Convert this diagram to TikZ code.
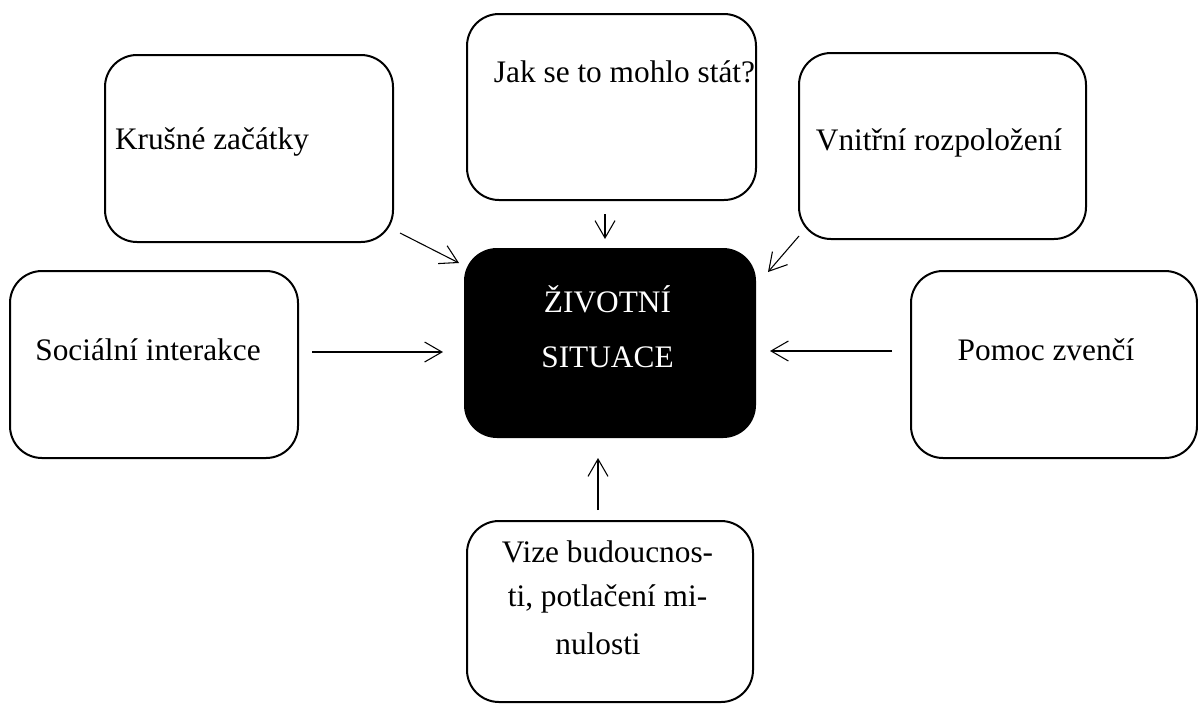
\documentclass[tikz,border=0pt]{standalone}
\usepackage{fontspec}
\setmainfont{Liberation Serif}
\usetikzlibrary{arrows.meta}
\begin{document}
\begin{tikzpicture}[x=0.75pt,y=-0.75pt,
  box/.style={draw, line width=1.5pt, rounded corners=24pt, inner sep=0pt},
  lbl/.style={anchor=base, inner sep=0pt, font=\fontsize{23.5}{28}\selectfont},
  conn/.style={line width=0.8pt, -{Straight Barb[length=13pt,width=15pt,line width=0.8pt]}}]
\useasboundingbox (0,0) rectangle (1198,704);
% boxes
\node[box, minimum width=216pt, minimum height=140.25pt] (kz) at (249,148.5) {};
\node[box, minimum width=216.75pt, minimum height=139.5pt] (jak) at (611.5,107) {};
\node[box, minimum width=215.25pt, minimum height=139.5pt] (vr) at (942.5,146) {};
\node[box, minimum width=216pt, minimum height=140.25pt] (si) at (154,364.5) {};
\node[box, fill=black, minimum width=217.5pt, minimum height=141pt] (ct) at (610,343) {};
\node[box, minimum width=214.5pt, minimum height=140.25pt] (pz) at (1054,364.5) {};
\node[box, minimum width=214.5pt, minimum height=135.75pt] (vb) at (610,611.5) {};
% labels
\node[lbl] (tkz) at (212,149) {Krušné začátky};
\node[lbl] (tjak) at (624.5,82) {Jak se to mohlo stát?};
\node[lbl] (tvr) at (939,150) {Vnitřní rozpoložení};
\node[lbl] (tsi) at (148,360) {Sociální interakce};
\node[lbl] (tpz) at (1046,360) {Pomoc zvenčí};
\node[lbl, text=white] (tct1) at (607.5,312) {ŽIVOTNÍ};
\node[lbl, text=white] (tct2) at (607.5,367) {SITUACE};
\node[lbl] (tvb1) at (607.5,562) {Vize budoucnos-};
\node[lbl] (tvb2) at (607.5,606) {ti, potlačení mi-};
\node[lbl] (tvb3) at (598,654) {nulosti};
% connector ends
\coordinate (a1s) at (400,233); \coordinate (a1e) at (459,263);
\coordinate (a2s) at (605,214); \coordinate (a2e) at (605,239);
\coordinate (a3s) at (799,236); \coordinate (a3e) at (768,272);
\coordinate (a4s) at (312,352); \coordinate (a4e) at (443,352);
\coordinate (a5s) at (892,351); \coordinate (a5e) at (770,351);
\coordinate (a6s) at (598,510); \coordinate (a6e) at (598,458);
\draw[conn] (a1s) -- (a1e);
\draw[conn] (a2s) -- (a2e);
\draw[conn] (a3s) -- (a3e);
\draw[conn] (a4s) -- (a4e);
\draw[conn] (a5s) -- (a5e);
\draw[conn] (a6s) -- (a6e);
\end{tikzpicture}
\end{document}
